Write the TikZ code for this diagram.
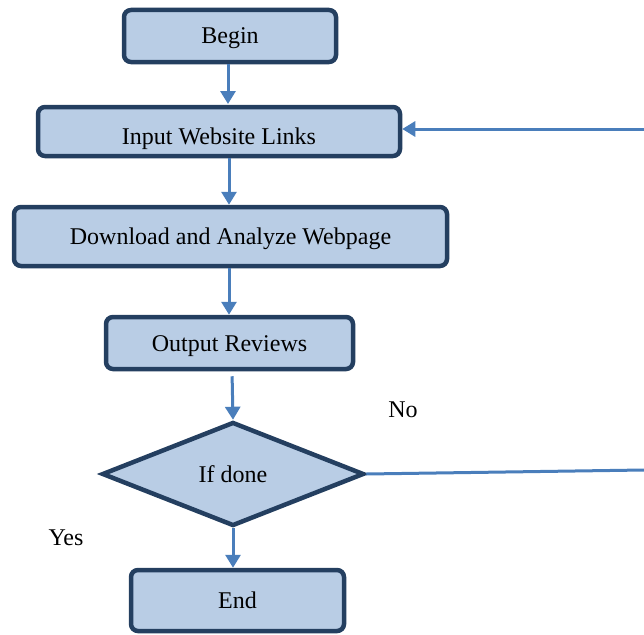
\documentclass[tikz,border=0pt]{standalone}
\usepackage{fontspec}
\setmainfont{Liberation Serif}
\usetikzlibrary{shapes.geometric,arrows.meta}
\definecolor{boxfill}{HTML}{B9CDE5}
\definecolor{boxline}{HTML}{243F60}
\definecolor{arrowblue}{HTML}{4A7EBB}
\tikzset{
  procbox/.style={rectangle, rounded corners=7pt, draw=boxline, line width=4.5pt, fill=boxfill, inner sep=0pt, text height=20pt, text depth=4pt, font=\fontsize{24}{28}\selectfont},
  decbox/.style={diamond, draw=boxline, line width=4.5pt, fill=boxfill, inner sep=0pt, aspect=2.5, font=\fontsize{24}{28}\selectfont},
  flow/.style={draw=arrowblue, line width=3pt, -{Triangle[length=13pt,width=15pt]}},
  plainflow/.style={draw=arrowblue, line width=3pt},
  lbl/.style={font=\fontsize{24}{28}\selectfont, inner sep=0pt}
}
\begin{document}
\begin{tikzpicture}[x=1pt,y=-1pt]
\useasboundingbox (0,0) rectangle (644,634);
\node[procbox, minimum width=212pt, minimum height=52pt] (begin) at (230,36) {Begin};
\node[procbox, minimum width=362pt, minimum height=49pt, text height=27pt, text depth=2pt] (input) at (219,131.5) {Input Website Links};
\node[procbox, minimum width=433pt, minimum height=59pt] (download) at (230.5,236.5) {Download and Analyze Webpage};
\node[procbox, minimum width=247pt, minimum height=52pt] (output) at (229.5,343) {Output Reviews};
\node[decbox, minimum width=262pt, minimum height=104pt] (dec) at (233,474) {If done};
\node[procbox, minimum width=213pt, minimum height=61pt] (end) at (237.5,600.5) {End};
\node[lbl] (no) at (403,410) {No};
\node[lbl] (yes) at (66,538) {Yes};
\coordinate (r1) at (644,129);
\coordinate (r2) at (644,470);
\draw[flow] (228,64) -- (228,104);
\draw[flow] (input.south -| 229,0) -- (download.north -| 229,0);
\draw[flow] (download.south -| 229,0) -- (output.north -| 229,0);
\draw[flow, shorten <=5pt] (output.south -| 232,0) -- (dec.north);
\draw[flow] (dec.south) -- (end.north -| dec.south);
\draw[plainflow] (dec.east) -- (r2);
\draw[flow] (r1) -- (r1 -| input.east);
\end{tikzpicture}
\end{document}
